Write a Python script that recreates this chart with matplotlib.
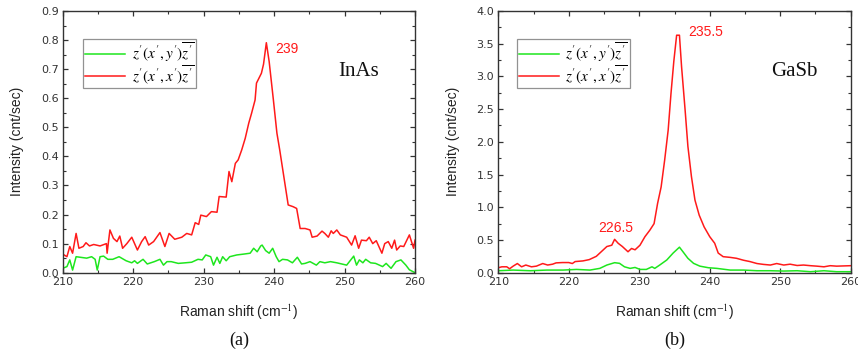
import numpy as np
import matplotlib.pyplot as plt
from matplotlib.ticker import MultipleLocator

plt.rcParams['mathtext.fontset'] = 'stix'

# (a) InAs, crossed polarisation z'(x',y')z'
inas_yx = [210.0, 210.6, 211.0, 211.4, 211.9, 212.5, 213.4, 214.1, 214.6, 214.9, 215.3, 215.8,
           216.4, 217.1, 218.0, 219.0, 219.8, 220.2, 220.6, 221.4, 222.0, 223.0, 223.8, 224.3,
           224.8, 225.4, 226.4, 227.4, 228.3, 229.2, 229.8, 230.3, 231.0, 231.4, 231.9, 232.3,
           232.7, 233.2, 233.7, 234.7, 235.7, 236.6, 237.1, 237.6, 238.1, 238.3, 238.8, 239.3,
           239.8, 240.3, 240.7, 241.2, 241.9, 242.6, 243.3, 243.9, 244.4, 245.1, 246.0, 246.5,
           247.2, 248.0, 248.9, 250.3, 251.3, 251.7, 252.1, 252.6, 253.0, 253.7, 254.4, 255.4,
           255.9, 256.6, 257.3, 258.0, 258.7, 259.2, 260.0]
inas_yy = [0.015, 0.021, 0.044, 0.009, 0.055, 0.053, 0.050, 0.055, 0.046, 0.009, 0.055, 0.057,
           0.046, 0.046, 0.055, 0.041, 0.034, 0.041, 0.032, 0.046, 0.030, 0.038, 0.046, 0.026,
           0.038, 0.038, 0.032, 0.034, 0.036, 0.046, 0.044, 0.061, 0.055, 0.026, 0.053, 0.032,
           0.055, 0.041, 0.055, 0.061, 0.064, 0.067, 0.084, 0.072, 0.092, 0.095, 0.076, 0.067,
           0.084, 0.055, 0.038, 0.046, 0.044, 0.034, 0.053, 0.030, 0.032, 0.038, 0.026, 0.038,
           0.034, 0.038, 0.034, 0.026, 0.057, 0.026, 0.044, 0.034, 0.046, 0.034, 0.032, 0.021,
           0.032, 0.015, 0.038, 0.044, 0.026, 0.010, 0.000]

# (a) InAs, parallel polarisation z'(x',x')z'
inas_xx = [210.0, 210.6, 211.0, 211.4, 211.9, 212.3, 212.9, 213.3, 213.8, 214.4, 215.3, 216.2,
           216.3, 216.7, 217.2, 217.7, 218.1, 218.5, 219.1, 219.8, 220.6, 221.2, 221.7, 222.2,
           222.9, 223.8, 224.5, 225.1, 225.9, 226.9, 227.6, 228.3, 228.8, 229.3, 229.6, 230.4,
           231.1, 231.9, 232.2, 233.2, 233.6, 234.0, 234.5, 234.9, 235.4, 235.9, 236.4, 236.8,
           237.3, 237.5, 238.2, 238.5, 238.9, 239.3, 239.9, 240.4, 240.8, 241.6, 242.0, 242.7,
           243.2, 243.7, 244.4, 245.1, 245.4, 246.1, 246.8, 247.2, 247.7, 248.1, 248.4, 248.9,
           249.4, 250.3, 251.0, 251.5, 252.0, 252.4, 253.1, 253.5, 254.0, 254.5, 255.3, 255.7,
           256.2, 256.7, 257.1, 257.4, 257.9, 258.4, 259.2, 259.8, 260.0]
inas_xy = [0.064, 0.055, 0.090, 0.067, 0.135, 0.084, 0.090, 0.103, 0.092, 0.097, 0.092, 0.100,
           0.067, 0.147, 0.118, 0.107, 0.126, 0.084, 0.100, 0.122, 0.078, 0.107, 0.124, 0.095,
           0.107, 0.138, 0.090, 0.135, 0.115, 0.122, 0.135, 0.130, 0.172, 0.166, 0.198, 0.193,
           0.210, 0.208, 0.262, 0.260, 0.348, 0.313, 0.376, 0.388, 0.422, 0.462, 0.514, 0.548,
           0.594, 0.652, 0.686, 0.717, 0.791, 0.726, 0.594, 0.480, 0.422, 0.296, 0.233, 0.227,
           0.221, 0.152, 0.152, 0.147, 0.122, 0.126, 0.143, 0.135, 0.122, 0.144, 0.135, 0.147,
           0.130, 0.122, 0.095, 0.127, 0.084, 0.112, 0.110, 0.122, 0.100, 0.110, 0.067, 0.100,
           0.107, 0.084, 0.112, 0.078, 0.092, 0.090, 0.130, 0.084, 0.112]

# (b) GaSb, crossed polarisation
gasb_yx = [210.0, 212.1, 214.5, 216.9, 219.2, 221.1, 223.0, 224.4, 225.4, 226.5, 227.2, 227.9,
           228.7, 229.4, 230.1, 231.0, 231.8, 232.2, 232.9, 233.9, 234.8, 235.7, 236.2, 236.9,
           237.7, 238.6, 239.8, 241.0, 242.9, 244.8, 246.7, 248.6, 250.5, 252.4, 254.3, 256.2,
           258.0, 260.0]
gasb_yy = [0.030, 0.040, 0.030, 0.040, 0.040, 0.050, 0.040, 0.066, 0.117, 0.153, 0.143, 0.090,
           0.066, 0.080, 0.050, 0.050, 0.090, 0.066, 0.117, 0.194, 0.300, 0.390, 0.320, 0.220,
           0.143, 0.100, 0.076, 0.066, 0.040, 0.040, 0.030, 0.030, 0.025, 0.030, 0.015, 0.030,
           0.015, 0.015]

# (b) GaSb, parallel polarisation
gasb_xx = [210.0, 210.5, 211.2, 211.6, 212.1, 212.7, 213.3, 213.9, 214.7, 215.4, 216.3, 217.0,
           217.7, 218.2, 219.1, 220.0, 220.5, 220.9, 222.0, 222.9, 223.9, 224.6, 225.4, 226.1,
           226.5, 227.0, 227.6, 228.4, 228.9, 229.4, 230.1, 230.8, 231.5, 232.1, 232.6, 233.1,
           233.6, 234.1, 234.5, 234.9, 235.3, 235.7, 236.0, 236.5, 236.9, 237.4, 237.9, 238.5,
           239.2, 240.0, 240.7, 241.2, 241.9, 242.9, 243.8, 244.8, 245.7, 246.7, 247.6, 248.6,
           249.5, 250.5, 251.4, 252.4, 253.3, 254.3, 255.2, 256.2, 257.1, 258.0, 260.0]
gasb_xy = [0.076, 0.090, 0.090, 0.060, 0.100, 0.140, 0.090, 0.117, 0.090, 0.100, 0.140, 0.117,
           0.130, 0.150, 0.155, 0.155, 0.140, 0.170, 0.180, 0.200, 0.250, 0.320, 0.400, 0.420,
           0.510, 0.450, 0.400, 0.320, 0.370, 0.350, 0.420, 0.550, 0.650, 0.750, 1.060, 1.310,
           1.720, 2.180, 2.740, 3.230, 3.630, 3.630, 3.150, 2.490, 1.930, 1.470, 1.110, 0.880,
           0.700, 0.550, 0.450, 0.300, 0.245, 0.234, 0.220, 0.190, 0.170, 0.140, 0.127, 0.117,
           0.140, 0.117, 0.130, 0.110, 0.117, 0.107, 0.100, 0.090, 0.107, 0.100, 0.107]

green = '#1ee61e'
red = '#ff1a1a'
lbl_yx = r"$z'(x',y')\overline{z'}$"
lbl_xx = r"$z'(x',x')\overline{z'}$"

fig = plt.figure(figsize=(8.58, 3.53), dpi=100)
ax1 = fig.add_axes([0.0731, 0.2275, 0.4106, 0.7413])
ax2 = fig.add_axes([0.5808, 0.2275, 0.4107, 0.7413])

panels = [
    (ax1, inas_yx, inas_yy, inas_xx, inas_xy, 0.9, 0.1, 0.05, 'InAs', '(a)', 0.058),
    (ax2, gasb_yx, gasb_yy, gasb_xx, gasb_xy, 4.0, 0.5, 0.25, 'GaSb', '(b)', 0.053),
]

for ax, gx, gy, rx, ry, ymax, ymaj, ymin, name, tag, legx in panels:
    ax.plot(gx, gy, color=green, lw=1.1, label=lbl_yx)
    ax.plot(rx, ry, color=red, lw=1.1, label=lbl_xx)
    ax.set_xlim(210, 260)
    ax.set_ylim(0, ymax)
    ax.xaxis.set_major_locator(MultipleLocator(10))
    ax.xaxis.set_minor_locator(MultipleLocator(5))
    ax.yaxis.set_major_locator(MultipleLocator(ymaj))
    ax.yaxis.set_minor_locator(MultipleLocator(ymin))
    ax.yaxis.set_major_formatter(plt.FormatStrFormatter('%.1f'))
    ax.tick_params(which='both', direction='in', top=True, right=True,
                   labelsize=8, colors='#333333', pad=3)
    ax.tick_params(which='major', length=3.5, width=0.9)
    ax.tick_params(which='minor', length=2, width=0.8)
    for sp in ax.spines.values():
        sp.set_color('#333333')
        sp.set_linewidth(1.0)
    ax.set_xlabel('Raman shift (cm$^{-1}$)', fontsize=10, color='#222222',
                  family='Liberation Sans', labelpad=11)
    ax.set_ylabel('Intensity (cnt/sec)', fontsize=10, color='#222222',
                  family='Liberation Sans', labelpad=12)
    leg = ax.legend(loc='upper left', bbox_to_anchor=(legx, 0.892), fontsize=11,
                    frameon=True, fancybox=False, edgecolor='#777777',
                    handlelength=2.6, borderpad=0.12, labelspacing=-0.1,
                    handletextpad=0.45, borderaxespad=0.0)
    leg.get_frame().set_linewidth(0.9)
    ax.text(0.84, 0.767, name, transform=ax.transAxes, ha='center', va='center',
            fontsize=15, family='Liberation Serif', color='#111111')
    ax.text(0.5, -0.26, tag, transform=ax.transAxes, ha='center', va='center',
            fontsize=13, family='Liberation Serif', color='#111111')

ax1.text(240.1, 0.795, '239', color=red, fontsize=10, family='Liberation Sans',
         ha='left', va='top')
ax2.text(237.0, 3.78, '235.5', color=red, fontsize=10, family='Liberation Sans',
         ha='left', va='top')
ax2.text(226.6, 0.58, '226.5', color=red, fontsize=10, family='Liberation Sans',
         ha='center', va='bottom')

fig.savefig('out.png', dpi=100)
